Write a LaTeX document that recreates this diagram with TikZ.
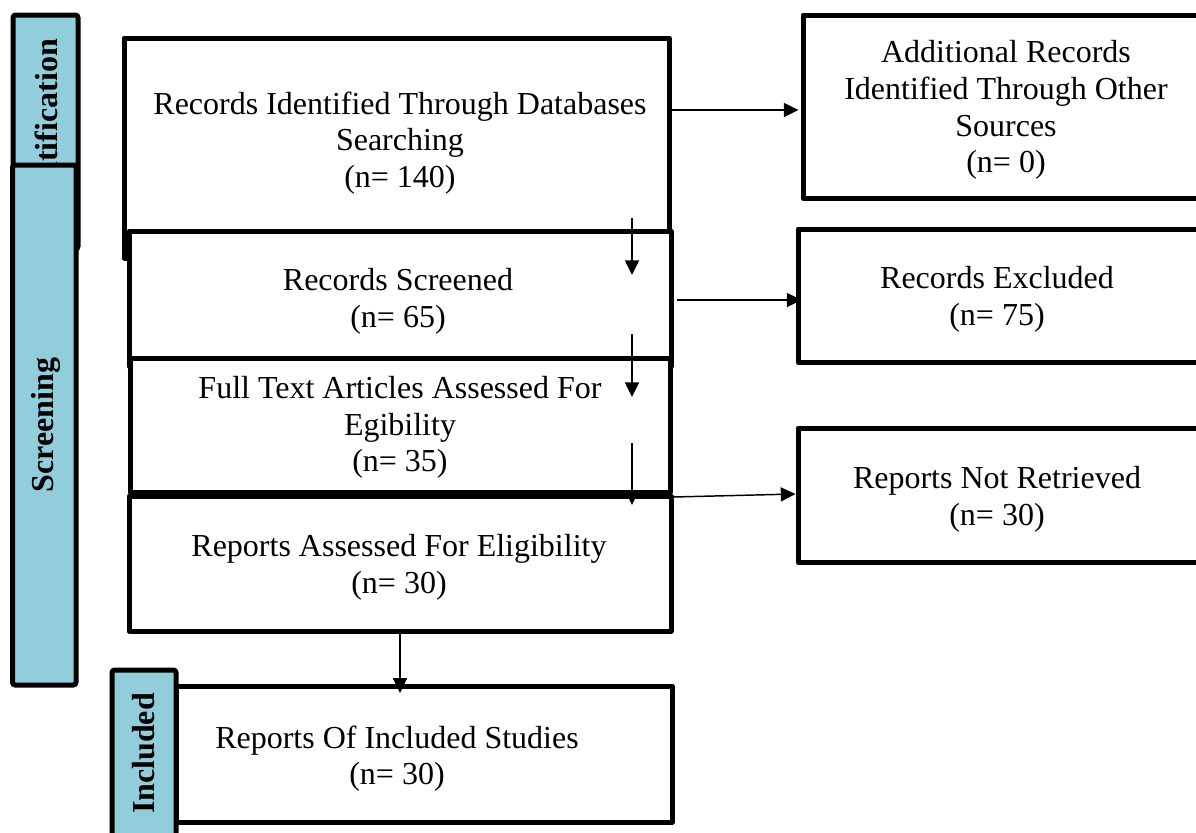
\documentclass[tikz,border=0pt]{standalone}
\usepackage{fontspec}
\setmainfont{Liberation Serif}
\usetikzlibrary{arrows.meta,fit,calc}
\definecolor{stagefill}{RGB}{146,205,220}
\begin{document}
\begin{tikzpicture}[x=0.75pt,y=-0.75pt,
  box/.style={draw=black, line width=3.75pt, fill=white, inner sep=0pt, line join=round},
  stage/.style={draw=black, line width=3.75pt, fill=stagefill, inner sep=0pt, rounded corners=2pt},
  txt/.style={align=center, font=\fontsize{24}{27.5}\selectfont, inner sep=0pt},
  stagetxt/.style={rotate=90, font=\fontsize{24}{28}\selectfont\bfseries, inner sep=0pt},
  arr/.style={line width=1.1pt, -{Triangle[length=11pt,width=10.5pt]}}
]
\useasboundingbox (0,0) rectangle (1196,832);
\clip (0,0) rectangle (1196,832);
\fill[white] (0,0) rectangle (1196,832);

% stage labels on the left
\node[stage, fit={(13,15) (78,249)}] (ident) {};
\node[stagetxt] (identtxt) at (46,131.5) {Identification};
\node[stage, fit={(12.5,165) (76,685)}] (screen) {};
\node[stagetxt] (screentxt) at (46,425) {Screening};

% main column
\node[box, fit={(124,38) (669,258)}] (b1) {};
\node[txt] (t1) at (400,143) {Records Identified Through Databases\\Searching\\(n= 140)};
\node[box, fit={(129,231) (671,366)}] (b2) {};
\node[txt] (t2) at (398,301) {Records Screened\\(n= 65)};
\node[box, fit={(130,358) (670,492)}] (b3) {};
\node[txt] (t3) at (400,427.5) {Full Text Articles Assessed For\\Egibility\\(n= 35)};
\node[box, fit={(129,496) (671,631)}] (b4) {};
\node[txt] (t4) at (399,567.5) {Reports Assessed For Eligibility\\(n= 30)};
\node[box, fit={(176,686) (672,822)}] (b5) {};
\node[txt] (t5) at (397,758.5) {Reports Of Included Studies\\(n= 30)};

\node[stage, fit={(112,670) (176,840)}] (incl) {};
\node[stagetxt] (incltxt) at (144,753.5) {Included};

% side column
\node[box, fit={(803,15) (1209,198)}] (r1) {};
\node[txt] (tr1) at (1006,110) {Additional Records\\Identified Through Other\\Sources\\(n= 0)};
\node[box, fit={(798,229) (1200,362)}] (r2) {};
\node[txt] (tr2) at (997,299) {Records Excluded\\(n= 75)};
\node[box, fit={(798,428) (1200,562)}] (r3) {};
\node[txt] (tr3) at (997,499) {Reports Not Retrieved\\(n= 30)};

% free-standing downward arrows in the main column
\coordinate (d1a) at (632,218); \coordinate (d1b) at (632,275);
\coordinate (d2a) at (632,334); \coordinate (d2b) at (632,397);
\coordinate (d3a) at (632,443); \coordinate (d3b) at (632,505);
\draw[arr] (d1a) -- (d1b);
\draw[arr] (d2a) -- (d2b);
\draw[arr] (d3a) -- (d3b);

% connectors
\draw[arr, shorten >=1.5pt] ($(b1.east)+(0,-38)$) -- ($(r1.west)+(0,3.5)$);
\draw[arr, shorten <=2.5pt, shorten >=-4.5pt] ($(b2.east)+(0,1.5)$) -- ($(r2.west)+(0,4.5)$);
\draw[arr] ($(b4.north east)+(0,3.5)$) -- ($(r3.west)+(0,-1)$);
\draw[arr, shorten >=-7pt] (b4.south) -- (b4.south |- b5.north);
\end{tikzpicture}
\end{document}
